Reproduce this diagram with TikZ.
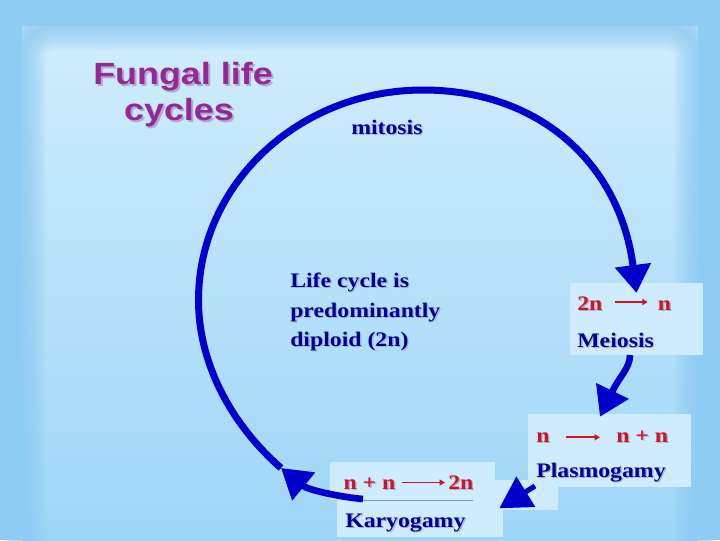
\documentclass[tikz,border=0pt]{standalone}
\usepackage{fontspec}
\newfontfamily\tnr{Liberation Serif}[FakeStretch=1.15]
\newfontfamily\arl{Liberation Sans}[FakeStretch=1.17]
\usetikzlibrary{arrows.meta}
\definecolor{edgec}{RGB}{142,204,244}
\definecolor{bgtop}{RGB}{208,237,252}
\definecolor{bgmid}{RGB}{194,230,251}
\definecolor{bgbot}{RGB}{152,211,247}
\definecolor{boxfill}{RGB}{206,236,253}
\definecolor{arcblue}{RGB}{0,0,204}
\definecolor{txtblue}{RGB}{0,0,150}
\definecolor{txtred}{RGB}{214,18,32}
\definecolor{txtshadow}{RGB}{165,180,212}
\definecolor{titlec}{RGB}{150,40,150}
\definecolor{titleshadow}{RGB}{178,168,212}
\definecolor{linec}{RGB}{130,150,185}
\tikzset{
  bodytext/.style={font=\tnr\bfseries\fontsize{15.5}{18}\selectfont, inner sep=0pt, anchor=base west},
  titletext/.style={font=\arl\bfseries\fontsize{23}{27}\selectfont, inner sep=0pt, anchor=base},
  infobox/.style={fill=boxfill, draw=none, anchor=north west, inner sep=0pt},
  cyclearrow/.style={draw=arcblue, line width=5.25pt, -{Triangle[length=21pt,width=26pt]}},
  redarrow/.style={draw=txtred, line width=1.3pt, -{Triangle[length=4pt,width=4.5pt]}},
}
% text with a drop shadow, inside one node
\newcommand\shadowed[3]{\makebox[0pt][l]{\hspace{#3}\raisebox{-#3}{\textcolor{#1}{#2}}}#2}
\newcommand\stext[5]{% name, x, y, colour, text
  \node[bodytext, text=#4] (#1) at (#2,#3) {\shadowed{txtshadow}{#5}{1pt}};}
\begin{document}
\begin{tikzpicture}[x=0.75pt,y=-0.75pt]
\useasboundingbox (0,0) rectangle (720,540);
% background
\fill[edgec] (0,0) rectangle (720,540);
\shade[top color=bgtop, middle color=bgmid, bottom color=bgbot] (22,26) rectangle (698,600);
\foreach \w in {2,4,...,36} {
  \draw[edgec, line width=\w pt, opacity=0.07, rounded corners=24pt] (22,26) rectangle (698,600);
}
% boxes
\node[infobox, minimum width=47.25pt, minimum height=22.5pt] (plasext) at (495,480) {};
\node[infobox, minimum width=99.75pt, minimum height=54pt] (meiobox) at (570,283) {};
\node[infobox, minimum width=122.25pt, minimum height=54.75pt] (plasbox) at (528,414) {};
\node[infobox, minimum width=123.75pt, minimum height=28.5pt] (karyA) at (330,462) {};
\node[infobox, minimum width=124.5pt, minimum height=27.75pt] (karyB) at (337,500) {};
\draw[linec, line width=0.6pt] ([xshift=24.75pt]karyA.south west) -- ([xshift=107.25pt]karyA.south west);
% title
\node[titletext, text=titlec] (t1) at (183,84) {\shadowed{titleshadow}{Fungal life}{1.5pt}};
\node[titletext, text=titlec] (t2) at (179,120) {\shadowed{titleshadow}{cycles}{1.5pt}};
% texts
\stext{mit}{351}{134}{txtblue}{mitosis}
\stext{lc1}{290}{287.5}{txtblue}{Life cycle is}
\stext{lc2}{290}{317}{txtblue}{predominantly}
\stext{lc3}{290}{346.5}{txtblue}{diploid (2n)}
\stext{mA}{577}{310}{txtred}{2n}
\stext{mB}{657.7}{310}{txtred}{n}
\stext{mei}{577}{347}{txtblue}{Meiosis}
\stext{pA}{536}{442}{txtred}{n}
\stext{pB}{616}{442}{txtred}{n + n}
\stext{pla}{536}{477.5}{txtblue}{Plasmogamy}
\stext{kA}{343.3}{489.5}{txtred}{n + n}
\stext{kB}{448}{489.5}{txtred}{2n}
\stext{kar}{345}{527}{txtblue}{Karyogamy}
\draw[redarrow] ([xshift=9pt,yshift=6pt]mA.base east) -- ([xshift=-7.5pt,yshift=6pt]mB.base west);
\draw[redarrow] ([xshift=12pt,yshift=3.5pt]pA.base east) -- ([xshift=-12pt,yshift=3.5pt]pB.base west);
\draw[redarrow] ([xshift=4.5pt,yshift=5.25pt]kA.base east) -- ([xshift=-2.25pt,yshift=5.25pt]kB.base west);
% cycle arrows
\coordinate (karyS) at (363,499);
\coordinate (arcS) at (281,468);
\coordinate (leftP) at (198.5,300);
\coordinate (topP) at (423,90);
\coordinate (meioTip) at (636.5,293);
\coordinate (meioOut) at (630,355);
\coordinate (plasTip) at (600,416.7);
\coordinate (plasOut) at (535,486);
\coordinate (karyTip) at (499.3,508.3);
\draw[cyclearrow, line width=5pt, -{Triangle[length=22pt,width=26pt]}] (karyS) .. controls (340,497) and (308,490) .. (arcS);
\draw[cyclearrow] (arcS) .. controls (233.5,426.4) and (198.5,366) .. (leftP)
  .. controls (198.5,184) and (299,90) .. (topP)
  .. controls (540,90) and (620,164) .. (meioTip);
\draw[cyclearrow, line width=4.9pt, -{Triangle[length=21.5pt,width=26pt]}] (meioOut) .. controls (630,368) and (619.6,376.2) .. (plasTip);
\draw[cyclearrow, line width=3.8pt, -{Triangle[length=23.5pt,width=26pt]}] (plasOut) -- (karyTip);
\end{tikzpicture}
\end{document}
